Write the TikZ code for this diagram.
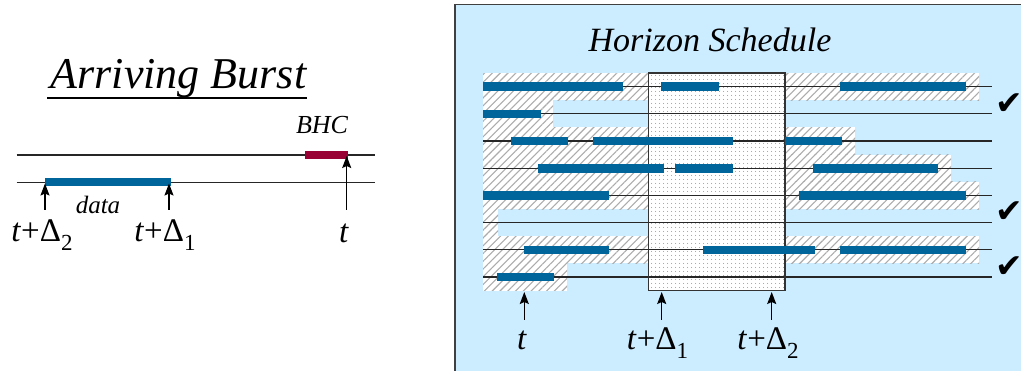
\documentclass[tikz,border=0pt]{standalone}
\usepackage{fontspec}
\setmainfont{Liberation Serif}
\usetikzlibrary{patterns,patterns.meta,arrows.meta}
\newfontfamily\dejavu{DejaVu Sans}
\definecolor{barblue}{RGB}{0,101,154}
\definecolor{bhcred}{RGB}{153,0,51}
\definecolor{panelblue}{RGB}{204,236,255}
\newcommand\tdel[1]{\textit{t}+Δ\raisebox{-0.28em}{\fontsize{23}{23}\selectfont #1}}
\tikzset{
  hatch/.style={fill=white, postaction={pattern={Lines[angle=45,distance=5.5pt,line width=1.1pt]}, pattern color=gray!65}},
  dotbox/.style={fill=white, postaction={pattern={Dots[distance=4pt,radius=0.6pt]}, pattern color=gray!90}},
  tline/.style={draw=black!85, line width=1.2pt},
  bar/.style={draw=barblue, line width=8.5pt},
  arr/.style={draw=black, line width=1.4pt, -{Stealth[length=12pt,width=9pt,inset=2pt]}},
  lbl/.style={font=\fontsize{33}{35}\selectfont, inner sep=0pt},
  chk/.style={font=\dejavu\fontsize{33}{34}\selectfont, inner sep=0pt},
}
\begin{document}
\begin{tikzpicture}[x=1pt,y=-1pt]
\useasboundingbox (0,0) rectangle (1021,371);
% ---------------- left: arriving burst ----------------
\node[font=\fontsize{44}{46}\selectfont\itshape, inner sep=0pt, anchor=base] (title1) at (178.5,88.5) {Arriving Burst};
\draw[line width=1.5pt] (47,98) -- (307,98);
\draw[tline] (16.7,155) -- (375,155);
\draw[tline] (16.7,182.7) -- (375,182.7);
\draw[draw=bhcred, line width=8pt] (305,155) -- (348.3,155);
\draw[draw=barblue, line width=8pt] (45,182) -- (170.7,182);
\node[font=\fontsize{26}{27}\selectfont\itshape, inner sep=0pt] (bhc) at (322,125.5) {BHC};
\node[font=\fontsize{25}{26}\selectfont\itshape, inner sep=0pt] (data) at (98,205) {data};
\node[lbl] (la2) at (42,235) {\tdel{2}};
\node[lbl] (la1) at (165,235) {\tdel{1}};
\node[lbl] (lt) at (344,233) {\textit{t}};
\coordinate (la2s) at (45,210);  \coordinate (la2e) at (45,183.5);
\coordinate (la1s) at (169,210); \coordinate (la1e) at (169,183.5);
\coordinate (lts) at (346.7,210); \coordinate (lte) at (346.7,156);
\draw[arr] (la2s) -- (la2e);
\draw[arr] (la1s) -- (la1e);
\draw[arr] (lts) -- (lte);
% ---------------- right: horizon schedule ----------------
\draw[fill=panelblue, draw=black!75, line width=1.6pt] (455,4.5) rectangle (1030,380);
\node[font=\fontsize{34}{36}\selectfont\itshape, inner sep=0pt, anchor=base] (title2) at (710,52) {Horizon Schedule};
% hatched left region
\path[hatch] (483,73.1) rectangle (648.7,100.3);
\path[hatch] (483,100.3) rectangle (553,127.5);
\path[hatch] (483,127.5) rectangle (648.7,209.1);
\path[hatch] (483,209.1) rectangle (498,236.3);
\path[hatch] (483,236.3) rectangle (648.7,263.5);
\path[hatch] (483,263.5) rectangle (567,290.7);
% hatched right region
\path[hatch] (785,73.1) rectangle (979,100.3);
\path[hatch] (785,127.5) rectangle (855,154.7);
\path[hatch] (785,154.7) rectangle (951,181.9);
\path[hatch] (785,181.9) rectangle (979,209.1);
\path[hatch] (785,236.3) rectangle (979,263.5);
% dotted box
\path[dotbox] (648.7,73.1) rectangle (785,290.7);
% time lines
\foreach \i in {0,...,7} {
  \draw[tline] (483,86.7+27.2*\i) -- (992,86.7+27.2*\i);
}
\draw[draw=black!80, line width=1.4pt] (648.7,73.1) rectangle (785,290.7);
% bars
\draw[bar] (483,86.7) -- (622.7,86.7);
\draw[bar] (661,86.7) -- (719,86.7);
\draw[bar] (840,86.7) -- (966,86.7);
\draw[bar] (483,113.9) -- (541,113.9);
\draw[bar] (511,141.1) -- (567.7,141.1);
\draw[bar] (593,141.1) -- (733,141.1);
\draw[bar] (785,141.1) -- (841.7,141.1);
\draw[bar] (538,168.3) -- (663.7,168.3);
\draw[bar] (675,168.3) -- (733,168.3);
\draw[bar] (813,168.3) -- (937.7,168.3);
\draw[bar] (483,195.5) -- (609,195.5);
\draw[bar] (799,195.5) -- (966,195.5);
\draw[bar] (524,249.9) -- (608.7,249.9);
\draw[bar] (703,249.9) -- (815,249.9);
\draw[bar] (840,249.9) -- (966,249.9);
\draw[bar] (497,277.1) -- (554,277.1);
% check marks
\node[chk] (c1) at (1009,104) {✔};
\node[chk] (c2) at (1009,212) {✔};
\node[chk] (c3) at (1009,267) {✔};
% time markers
\node[lbl] (rt) at (522,340) {\textit{t}};
\node[lbl] (rt1) at (657.5,343) {\tdel{1}};
\node[lbl] (rt2) at (768,343) {\tdel{2}};
\coordinate (rts) at (524.3,320);  \coordinate (rte) at (524.3,292);
\coordinate (rt1s) at (661.7,320); \coordinate (rt1e) at (661.7,292);
\coordinate (rt2s) at (771.7,320); \coordinate (rt2e) at (771.7,292);
\draw[arr] (rts) -- (rte);
\draw[arr] (rt1s) -- (rt1e);
\draw[arr] (rt2s) -- (rt2e);
\end{tikzpicture}
\end{document}
